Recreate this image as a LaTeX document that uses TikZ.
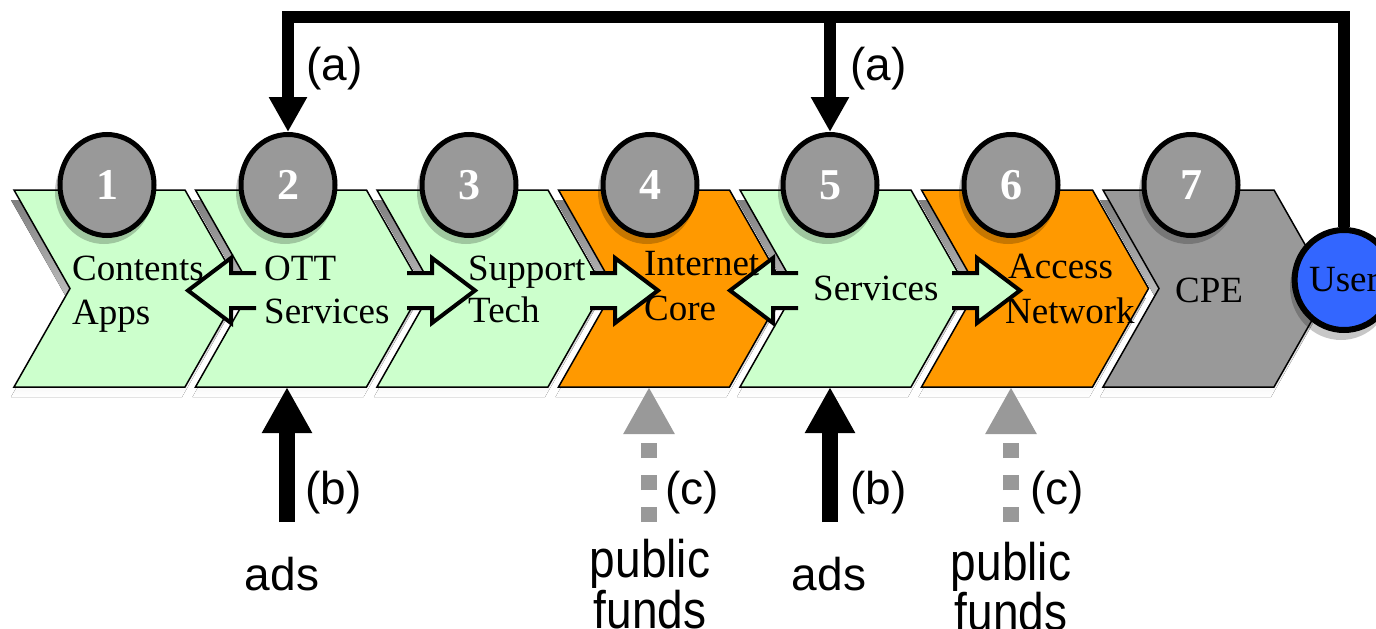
\documentclass[tikz,border=0pt]{standalone}
\usepackage{fontspec}
\setmainfont{Liberation Serif}
\newfontfamily\labfont{Liberation Sans}
\usepackage{graphicx}
\usetikzlibrary{arrows.meta,shapes.geometric,calc}

\definecolor{mint}{HTML}{CCFFCC}
\definecolor{amber}{HTML}{FF9900}
\definecolor{stone}{HTML}{999999}
\definecolor{shade}{HTML}{808080}
\definecolor{userblue}{HTML}{3366FF}

\tikzset{
  chev/.style={draw=black, line width=1.5pt, line join=miter},
  stage/.style={ellipse, draw=black, line width=5pt, fill=stone,
    minimum width=94pt, minimum height=101pt, inner sep=0pt,
    font=\fontsize{44}{44}\selectfont\bfseries, text=white},
  stageshadow/.style={fill=black, opacity=0.22},
  stagelbl/.style={anchor=base west, inner sep=0pt, font=\fontsize{37}{44}\selectfont},
  blockarrow/.style={draw=black, line width=4pt, line join=miter},
  feedback/.style={line width=12pt, line join=miter, -{Triangle[width=36pt,length=35pt]}},
  adsflow/.style={line width=16pt, -{Triangle[width=47pt,length=46pt]}},
  fundflow/.style={line width=16pt, stone, dash pattern=on 15pt off 17pt,
    -{Triangle[width=48pt,length=47pt]}},
  tag/.style={inner sep=0pt, font=\labfont\fontsize{46}{46}\selectfont},
}

% one chevron stage with its drop shadow: #1 left x, #2 fill colour
\newcommand\chevron[2]{%
  \fill[shade, shift={(-3,10)}] (#1,190) -- ++(171,0) -- ++(56,98.5) -- ++(-56,98.5)
    -- ++(-171,0) -- ++(56,-98.5) -- cycle;
  \draw[chev, fill=#2] (#1,190) -- ++(171,0) -- ++(56,98.5) -- ++(-56,98.5)
    -- ++(-171,0) -- ++(56,-98.5) -- cycle;
}
% open-ended block arrow pointing right, tip at x=#1
\newcommand\rightflow[1]{%
  \fill[mint] (#1-68,273) -- (#1-43,273) -- (#1-43,258) -- (#1,290.5) -- (#1-43,323)
    -- (#1-43,308) -- (#1-68,308) -- cycle;
  \draw[blockarrow] (#1-68,273) -- (#1-43,273) -- (#1-43,258) -- (#1,290.5) -- (#1-43,323)
    -- (#1-43,308) -- (#1-68,308);
}
% open-ended block arrow pointing left, tip at x=#1
\newcommand\leftflow[1]{%
  \fill[mint] (#1+68,273) -- (#1+43,273) -- (#1+43,258) -- (#1,290.5) -- (#1+43,323)
    -- (#1+43,308) -- (#1+68,308) -- cycle;
  \draw[blockarrow] (#1+68,273) -- (#1+43,273) -- (#1+43,258) -- (#1,290.5) -- (#1+43,323)
    -- (#1+43,308) -- (#1+68,308);
}

\begin{document}
\begin{tikzpicture}[x=1pt, y=-1pt]
\useasboundingbox (0,0) rectangle (1376,629);
\clip (0,0) rectangle (1376,629);

% value chain stages
\chevron{14}{mint}
\chevron{195.5}{mint}
\chevron{377}{mint}
\chevron{558.5}{amber}
\chevron{740}{mint}
\chevron{921.5}{amber}
\chevron{1103}{stone}

% stage number badges
\foreach \i/\x in {1/107, 2/288, 3/469, 4/650, 5/830, 6/1011, 7/1191}{
  \coordinate (p\i) at (\x,185);
  \fill[stageshadow] ([shift={(-3,7)}]p\i) ellipse [x radius=49, y radius=52];
  \node[stage] (n\i) at (p\i) {\i};
}

% user
\coordinate (pu) at (1344,280);
\fill[stageshadow] ([shift={(-3,7)}]pu) ellipse [x radius=51, y radius=53];
\node[stage, fill=userblue, line width=6pt, minimum width=96pt, minimum height=100pt,
  font=\fontsize{37}{44}\selectfont, text=black] (user) at (pu) {User};

% flows between stages
\leftflow{188}
\rightflow{475}
\rightflow{658}
\leftflow{730}
\rightflow{1020}

% stage labels
\node[stagelbl] (l1a) at (72,280) {Contents};
\node[stagelbl] (l1b) at (72,324) {Apps};
\node[stagelbl] (l2a) at (264,280) {OTT};
\node[stagelbl] (l2b) at (264,323) {Services};
\node[stagelbl] (l3a) at (468,280) {Support};
\node[stagelbl] (l3b) at (468,322) {Tech};
\node[stagelbl] (l4a) at (644,275) {Internet};
\node[stagelbl] (l4b) at (644,320) {Core};
\node[stagelbl] (l5) at (813,300) {Services};
\node[stagelbl] (l6a) at (1008,278) {Access};
\node[stagelbl] (l6b) at (1005,323) {Network};
\node[stagelbl] (l7) at (1175,302) {CPE};

% payment loop from the user
\coordinate (fbR) at (1344,17);
\coordinate (fbM) at (830,17);
\coordinate (fbL) at (288,17);
\draw[feedback] (user.north) -- (fbR) -- (fbL) -- (n2.north);
\draw[feedback] (fbM) -- (n5.north);
\node[tag, anchor=base west] (a1) at (306,80) {(a)};
\node[tag, anchor=base west] (a2) at (850,80) {(a)};

% advertising revenue
\coordinate (s2) at (287,387);
\coordinate (s5) at (830,387);
\coordinate (ads1) at (287,522);
\coordinate (ads2) at (830,522);
\draw[adsflow] (ads1) -- (s2);
\draw[adsflow] (ads2) -- (s5);
\node[tag, anchor=base west] (b1) at (305,504) {(b)};
\node[tag, anchor=base west] (b2) at (850,504) {(b)};
\node[tag, anchor=base] (t1) at (282,590) {ads};
\node[tag, anchor=base] (t2) at (829,590) {ads};

% public funding
\coordinate (s4) at (649,387);
\coordinate (s6) at (1011,387);
\coordinate (pf1) at (649,522);
\coordinate (pf2) at (1011,522);
\draw[fundflow] (pf1) -- (s4);
\draw[fundflow] (pf2) -- (s6);
\node[tag, anchor=base west] (c1) at (665,504) {(c)};
\node[tag, anchor=base west] (c2) at (1030,504) {(c)};
\node[tag, anchor=base] (f1a) at (650,577) {\scalebox{1}[1.15]{public}};
\node[tag, anchor=base] (f1b) at (650,628) {\scalebox{1}[1.15]{funds}};
\node[tag, anchor=base] (f2a) at (1011,580) {\scalebox{1}[1.15]{public}};
\node[tag, anchor=base] (f2b) at (1011,630) {\scalebox{1}[1.15]{funds}};
\end{tikzpicture}
\end{document}
